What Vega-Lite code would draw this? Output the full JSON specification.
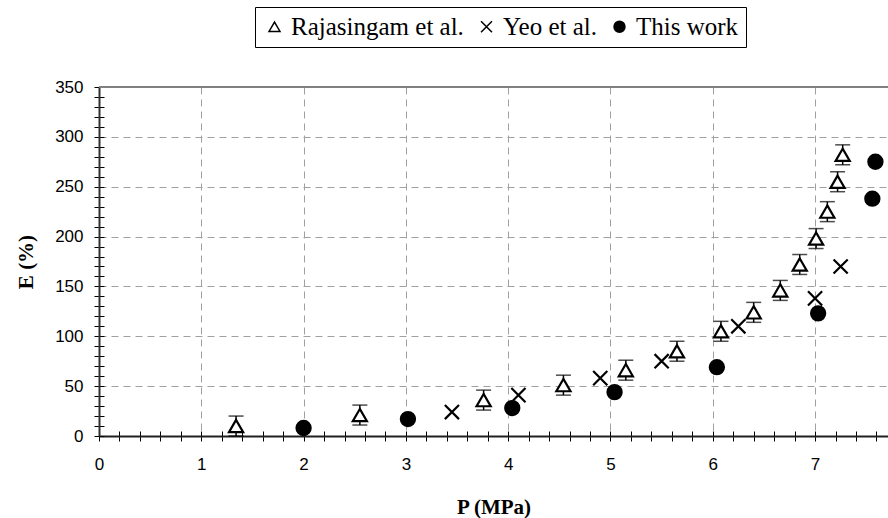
{
  "$schema": "https://vega.github.io/schema/vega-lite/v6.json",
  "width": 789,
  "height": 349,
  "autosize": {"type": "none"},
  "padding": {"left": 99, "top": 87, "right": 0, "bottom": 82},
  "background": "white",
  "config": {
    "view": {"stroke": null},
    "font": "Liberation Sans",
    "legend": {
      "labelFont": "Liberation Serif",
      "labelFontSize": 25,
      "labelColor": "black",
      "labelLimit": 400
    }
  },
  "data": {
    "values": [
      {"series": "Rajasingam et al.", "P": 1.34, "E": 10, "err": 10},
      {"series": "Rajasingam et al.", "P": 2.55, "E": 21, "err": 10},
      {"series": "Rajasingam et al.", "P": 3.76, "E": 36, "err": 10},
      {"series": "Rajasingam et al.", "P": 4.54, "E": 51, "err": 10},
      {"series": "Rajasingam et al.", "P": 5.15, "E": 66, "err": 10},
      {"series": "Rajasingam et al.", "P": 5.65, "E": 85, "err": 10},
      {"series": "Rajasingam et al.", "P": 6.08, "E": 105, "err": 10},
      {"series": "Rajasingam et al.", "P": 6.40, "E": 124, "err": 10},
      {"series": "Rajasingam et al.", "P": 6.66, "E": 146, "err": 10},
      {"series": "Rajasingam et al.", "P": 6.85, "E": 172, "err": 10},
      {"series": "Rajasingam et al.", "P": 7.01, "E": 198, "err": 10},
      {"series": "Rajasingam et al.", "P": 7.12, "E": 225, "err": 10},
      {"series": "Rajasingam et al.", "P": 7.22, "E": 255, "err": 10},
      {"series": "Rajasingam et al.", "P": 7.27, "E": 282, "err": 10},
      {"series": "Yeo et al.", "P": 3.45, "E": 24},
      {"series": "Yeo et al.", "P": 4.10, "E": 41},
      {"series": "Yeo et al.", "P": 4.90, "E": 58},
      {"series": "Yeo et al.", "P": 5.50, "E": 75},
      {"series": "Yeo et al.", "P": 6.25, "E": 110},
      {"series": "Yeo et al.", "P": 7.00, "E": 138},
      {"series": "Yeo et al.", "P": 7.25, "E": 170},
      {"series": "This work", "P": 2.00, "E": 8},
      {"series": "This work", "P": 3.02, "E": 17},
      {"series": "This work", "P": 4.04, "E": 28},
      {"series": "This work", "P": 5.04, "E": 44},
      {"series": "This work", "P": 6.04, "E": 69},
      {"series": "This work", "P": 7.03, "E": 123},
      {"series": "This work", "P": 7.56, "E": 238},
      {"series": "This work", "P": 7.59, "E": 275}
    ]
  },
  "resolve": {"axis": {"x": "independent", "y": "independent"}},
  "layer": [
    {
      "mark": {"type": "rule", "color": "#808080", "strokeWidth": 2},
      "encoding": {
        "y": {"datum": 350, "type": "quantitative", "scale": {"domain": [0, 350], "nice": false}, "axis": null}
      }
    },
    {
      "transform": [{"filter": "datum.series === 'Rajasingam et al.'"}],
      "mark": {"type": "errorbar", "color": "black", "thickness": 1.5, "ticks": {"size": 15, "thickness": 1.5, "color": "black"}},
      "encoding": {
        "x": {
          "field": "P", "type": "quantitative",
          "scale": {"domain": [0, 7.713], "nice": false, "zero": false},
          "axis": {
            "orient": "bottom",
            "values": [0, 0.2, 0.4, 0.6, 0.8, 1, 1.2, 1.4, 1.6, 1.8, 2, 2.2, 2.4, 2.6, 2.8, 3, 3.2, 3.4, 3.6, 3.8, 4, 4.2, 4.4, 4.6, 4.8, 5, 5.2, 5.4, 5.6, 5.8, 6, 6.2, 6.4, 6.6, 6.8, 7, 7.2, 7.4, 7.6],
            "grid": false, "domain": false, "labels": false,
            "ticks": true, "tickSize": 10, "offset": -5,
            "tickColor": "black", "tickWidth": 1, "title": null
          }
        },
        "y": {
          "field": "E", "type": "quantitative",
          "scale": {"domain": [0, 350], "nice": false},
          "axis": {
            "orient": "left",
            "values": [0, 10, 20, 30, 40, 50, 60, 70, 80, 90, 100, 110, 120, 130, 140, 150, 160, 170, 180, 190, 200, 210, 220, 230, 240, 250, 260, 270, 280, 290, 300, 310, 320, 330, 340, 350],
            "grid": false, "domain": false, "labels": false,
            "ticks": true, "tickSize": 10, "offset": -5,
            "tickColor": "black", "tickWidth": 1, "title": null
          }
        },
        "yError": {"field": "err"}
      }
    },
    {
      "mark": {"type": "point", "stroke": "black", "strokeWidth": 2.2, "size": 200, "opacity": 1},
      "encoding": {
        "x": {
          "field": "P", "type": "quantitative",
          "scale": {"domain": [0, 7.713], "nice": false, "zero": false},
          "axis": {
            "orient": "bottom",
            "values": [0, 1, 2, 3, 4, 5, 6, 7],
            "grid": true, "gridColor": "#a0a0a0", "gridDash": [7, 5], "gridWidth": 1,
            "ticks": false, "domain": true, "domainColor": "#202020", "domainWidth": 2,
            "labelFont": "Liberation Sans", "labelFontSize": 17, "labelColor": "black",
            "labelPadding": 20, "labelFlush": false, "labelOverlap": false,
            "title": "P (MPa)", "titleFont": "Liberation Serif", "titleFontWeight": "bold",
            "titleFontSize": 21, "titleColor": "black", "titleY": 77, "titleBaseline": "alphabetic"
          }
        },
        "y": {
          "field": "E", "type": "quantitative",
          "scale": {"domain": [0, 350], "nice": false},
          "axis": {
            "orient": "left",
            "values": [0, 50, 100, 150, 200, 250, 300, 350],
            "grid": true, "gridColor": "#a0a0a0", "gridDash": [7, 5], "gridWidth": 1,
            "ticks": false, "domain": true, "domainColor": "#303030", "domainWidth": 2,
            "labelFont": "Liberation Sans", "labelFontSize": 17, "labelColor": "black",
            "labelPadding": 16, "labelOverlap": false,
            "title": "E (%)", "titleFont": "Liberation Serif", "titleFontWeight": "bold",
            "titleFontSize": 21, "titleColor": "black", "titleAngle": 270,
            "titleX": -73, "titleY": 174.5, "titleAlign": "center", "titleBaseline": "middle"
          }
        },
        "shape": {
          "field": "series", "type": "nominal",
          "scale": {
            "domain": ["Rajasingam et al.", "Yeo et al.", "This work"],
            "range": ["triangle-up", "M-1,-1L1,1M1,-1L-1,1", "circle"]
          },
          "legend": {
            "title": null, "orient": "none", "legendX": 156, "legendY": -80,
            "direction": "horizontal", "strokeColor": "black", "fillColor": "white",
            "padding": 7, "symbolSize": 120, "columnPadding": 10, "labelOffset": 4,
            "labelFont": "Liberation Serif", "labelFontSize": 25, "labelColor": "black",
            "labelLimit": 400,
            "encode": {
              "symbols": {"update": {"stroke": {"value": "black"}, "strokeWidth": {"value": 1.8}, "opacity": {"value": 1}}}
            }
          }
        },
        "fill": {
          "field": "series", "type": "nominal",
          "scale": {
            "domain": ["Rajasingam et al.", "Yeo et al.", "This work"],
            "range": ["white", "transparent", "black"]
          }
        }
      }
    }
  ]
}
